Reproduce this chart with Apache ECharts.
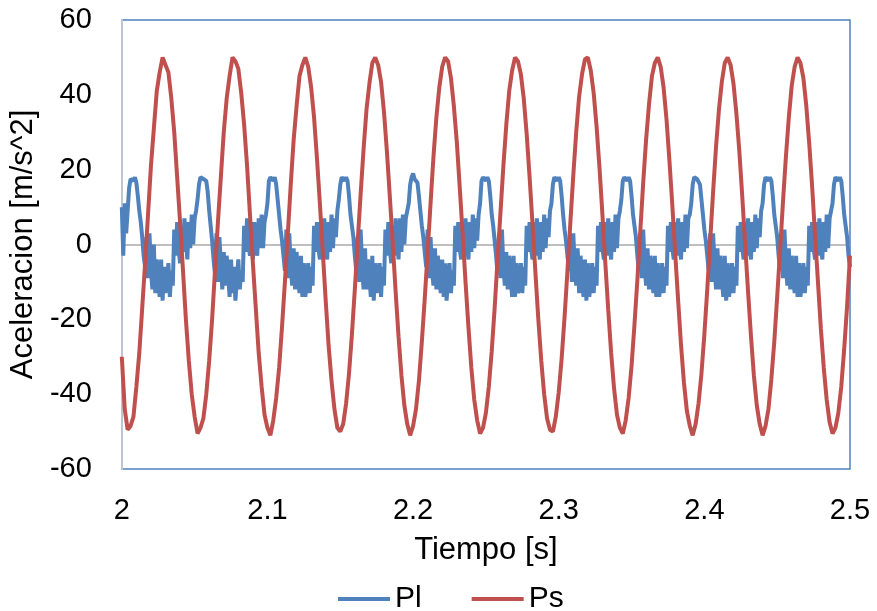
<!DOCTYPE html>
<html>
<head>
<meta charset="utf-8">
<script src="https://cdn.jsdelivr.net/npm/echarts@6/dist/echarts.min.js"></script>
<style>
html,body{margin:0;padding:0;background:#fff;}
#chart{width:877px;height:611px;}
</style>
</head>
<body>
<div id="chart"></div>
<script>
// Series names
const seriesNames = ['Pl', 'Ps'];

// Time sampling (s)
const plStart = 2.0, plStep = 0.001;
const psStart = 2.0, psStep = 0.002;

// Pl acceleration [m/s^2], one value per 1 ms from 2.000 s to 2.500 s
const plValues = [
10, -3, 11, 3, 9, 15, 17.5, 18, 17, 18,
16.5, 13, 9, 6, 2, -3, -6, 2, -9, 3,
-7, -12, 0, -13, -4, -10, -14, -4, -15, -6,
-13, -9, -5, -14, -7, -11, 4, -3, 6, -1,
-5, 5, -2, 7, 1, -4, 6, -1, 8, 0,
7, 9, 12, 16, 18, 18.5, 17.5, 18, 17, 14,
9, 5, 1, -4, -8, 3, -10, 2, -5, -12,
-2, -11, -3, -8, -14, -4, -13, -6, -15, -9,
-4, -12, -7, -10, 5, -2, 7, 0, -3, 6,
-4, 6, 1, -3, 7, -1, 8, -1, 6, 8,
11, 17, 18, 18.5, 17, 18, 16, 12, 8, 4,
1, -3, -7, 4, -9, 3, -6, -11, -1, -12,
-2, -9, -13, -3, -14, -5, -14, -10, -5, -13,
-6, -11, 5, -2, 6, -1, -4, 6, -3, 7,
0, -4, 6, -2, 8, -1, 7, 2, 9, 12,
16, 18, 18.5, 17, 18, 17, 13, 8, 5, 2,
-3, -7, 2, -10, 4, -6, -12, -1, -12, -4,
-9, -14, -3, -15, -5, -13, -9, -5, -14, -6,
-11, 4, -3, 6, -1, -5, 5, -3, 7, 1,
-4, 7, -2, 8, 0, 7, 9, 11, 16, 18,
19, 17.5, 18, 16.5, 13, 9, 5, 2, -2, -6,
4, -9, 2, -7, -11, -1, -12, -3, -9, -13,
-4, -14, -5, -15, -9, -5, -13, -7, -11, 5,
-2, 6, -1, -4, 6, -3, 7, 0, -4, 6,
-2, 8, -1, 7, 1, 8, 11, 17, 18, 18.5,
17, 18, 17, 13, 8, 5, 1, -3, -8, 3,
-9, 4, -6, -11, -2, -12, -3, -9, -14, -3,
-14, -5, -13, -10, -5, -13, -6, -11, 5, -2,
6, -1, -4, 6, -3, 7, 0, -4, 6, -2,
8, -1, 7, 2, 9, 11, 16, 18, 18.5, 17,
18, 17, 13, 8, 4, 1, -3, -7, 3, -10,
3, -6, -11, -1, -13, -3, -9, -14, -4, -15,
-5, -14, -10, -5, -13, -6, -11, 5, -2, 6,
-1, -4, 6, -3, 7, 0, -4, 6, -2, 8,
-1, 7, 9, 12, 17, 18, 18.5, 17, 18, 17,
13, 8, 5, 2, -3, -7, 3, -9, 4, -6,
-11, -1, -12, -3, -9, -13, -3, -14, -5, -14,
-10, -5, -13, -6, -11, 5, -2, 6, -1, -4,
6, -3, 7, 0, -4, 6, -2, 8, -1, 7,
8, 11, 16, 18, 18.5, 17.5, 18, 16, 12, 8,
4, 1, -3, -7, 3, -10, 3, -5, -12, -1,
-12, -3, -9, -14, -3, -15, -5, -14, -9, -5,
-13, -6, -11, 5, -2, 6, -1, -4, 6, -3,
7, 0, -4, 6, -2, 8, -1, 7, 2, 9,
11, 16, 18, 18.5, 17, 18, 17, 13, 8, 5,
2, -3, -7, 3, -9, 4, -6, -11, -1, -12,
-3, -9, -13, -3, -14, -5, -14, -10, -5, -13,
-6, -11, 5, -2, 6, -1, -4, 6, -3, 7,
0, -4, 6, -2, 8, -1, 7, 9, 11, 16,
18, 18.5, 17, 18, 17, 13, 8, 5, 2, -3,
-6
];

// Ps acceleration [m/s^2], one value per 2 ms from 2.000 s to 2.500 s
const psValues = [
-30, -44, -49.5, -48.5, -46, -38, -29, -17, -5, 8,
21, 31, 41, 46, 50, 48, 46, 39, 30, 18,
6, -7, -20, -31, -40, -46, -50.5, -49, -46.5, -40,
-31, -20, -7, 6, 18, 30, 39, 45, 50, 49,
47, 40.5, 32, 21, 8, -5, -17, -29, -38, -45.5,
-49, -51, -47, -41, -33, -22, -10, 3, 16, 28,
37, 45, 48, 50, 47.5, 42, 34, 23, 11, -2,
-15, -27, -36.5, -44, -49, -50, -48, -42.5, -34.5, -24,
-12, 1, 13.5, 25.5, 36, 43, 48.5, 50, 48, 43.5,
35.5, 25, 13, 0.5, -12.5, -24.5, -35, -43, -48, -51,
-48.5, -44, -36.5, -26, -14.5, -2, 11, 23.5, 34, 42,
47.5, 50, 49, 44.5, 37, 27.5, 15.5, 3, -10, -22,
-33, -41.5, -47, -50.5, -49, -45, -38, -28.5, -17, -4,
8.5, 21, 32, 41, 46.5, 50, 49, 45.5, 39, 29.5,
18, 5.5, -7.5, -20, -31, -40, -46.5, -49.5, -50, -46,
-39.5, -30.5, -19.5, -7, 6, 18.5, 30, 39.5, 45.5, 49.5,
50, 46.5, 40.5, 31.5, 20.5, 8, -5, -17.5, -29, -38.5,
-45.5, -49, -50.5, -47, -41, -32.5, -21.5, -9.5, 3.5, 16.5,
28, 37.5, 45, 48.5, 50, 47.5, 42, 33.5, 22.5, 10.5,
-2.5, -15, -27, -37, -44.5, -48.5, -51, -48, -42.5, -34.5,
-24, -12, 1, 14, 26, 36, 43.5, 48.5, 50, 48,
43, 35, 25, 13, 0, -12.5, -24.5, -35, -43, -48,
-51, -48.5, -44, -36, -26, -14, -1.5, 11.5, 23.5, 34,
42.5, 47.5, 50, 48.5, 44.5, 37, 27, 15.5, 2.5, -10,
-22.5, -33, -41.5, -47.5, -50.5, -49, -45, -38, -28, -16.5,
-3
];

function pairs(start, step, vals) {
  return vals.map((v, i) => [+(start + i * step).toFixed(4), v]);
}

const FONT = '"Liberation Sans", Arial, sans-serif';
const chart = echarts.init(document.getElementById('chart'), null, {renderer: 'canvas'});

chart.setOption({
  animation: false,
  backgroundColor: '#ffffff',
  textStyle: {fontFamily: FONT, color: '#000'},
  grid: {
    left: 121, right: 27, top: 20, bottom: 142,
    show: true, borderColor: '#4F81BD', borderWidth: 1.5, backgroundColor: 'transparent'
  },
  legend: {
    data: seriesNames.map(n => ({name: n, icon: 'rect'})),
    left: 333, top: 579,
    itemWidth: 52, itemHeight: 4, itemGap: 50,
    textStyle: {fontFamily: FONT, fontSize: 30, color: '#000'}
  },
  xAxis: {
    type: 'value', min: 2, max: 2.5, interval: 0.1,
    name: 'Tiempo [s]', nameLocation: 'middle', nameGap: 66,
    nameTextStyle: {fontFamily: FONT, fontSize: 31, color: '#000'},
    axisLine: {show: false}, axisTick: {show: false}, splitLine: {show: false},
    axisLabel: {fontFamily: FONT, fontSize: 29, color: '#000', margin: 27,
      formatter: v => String(+v.toFixed(1))}
  },
  yAxis: {
    type: 'value', min: -60, max: 60, interval: 20,
    name: 'Aceleracion [m/s^2]', nameLocation: 'middle', nameGap: 77,
    nameTextStyle: {fontFamily: FONT, fontSize: 31, color: '#000'},
    axisLine: {show: true, lineStyle: {color: '#BCC6D3', width: 2}},
    axisTick: {show: false},
    splitLine: {show: true, lineStyle: {width: 2,
      color: ['transparent', 'transparent', 'transparent', '#BFBFBF', 'transparent', 'transparent', 'transparent']}},
    axisLabel: {fontFamily: FONT, fontSize: 29, color: '#000', margin: 30}
  },
  series: [
    {
      name: seriesNames[0], type: 'line', data: pairs(plStart, plStep, plValues),
      symbol: 'none', showSymbol: false, sampling: null,
      lineStyle: {color: '#4F81BD', width: 4}, itemStyle: {color: '#4F81BD'}, z: 2
    },
    {
      name: seriesNames[1], type: 'line', data: pairs(psStart, psStep, psValues),
      symbol: 'none', showSymbol: false, sampling: null,
      lineStyle: {color: '#C0504D', width: 4}, itemStyle: {color: '#C0504D'}, z: 3
    }
  ]
});
</script>
</body>
</html>
